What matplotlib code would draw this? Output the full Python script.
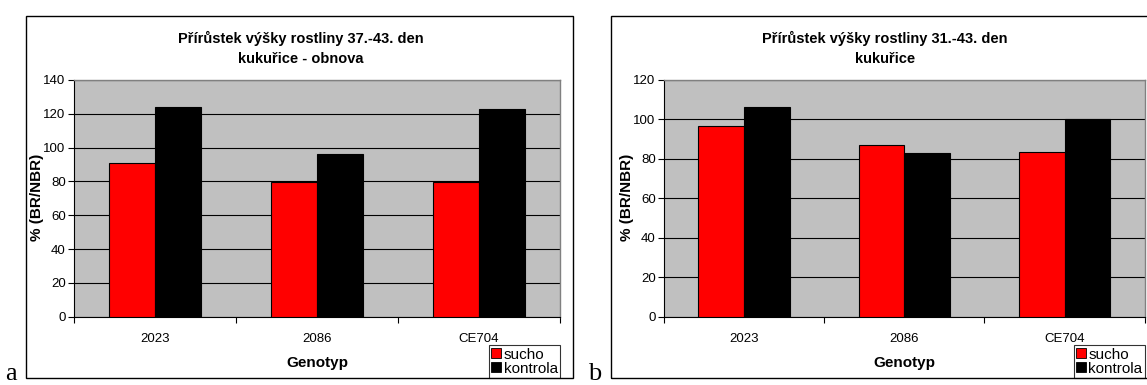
import numpy as np
import matplotlib
matplotlib.use("Agg")
import matplotlib.pyplot as plt
from matplotlib.patches import Rectangle
from matplotlib.lines import Line2D

plt.rcParams['font.family'] = ['Liberation Sans', 'DejaVu Sans']

# ---- data -------------------------------------------------------------
categories = ['2023', '2086', 'CE704']
series_names = ['sucho', 'kontrola']
series_colors = ['#FF0000', '#000000']

a_sucho = [90.8, 79.9, 79.9]
a_kontrola = [124.2, 96.2, 123.0]

b_sucho = [96.8, 86.9, 83.3]
b_kontrola = [106.3, 82.8, 100.1]

a_title = 'Přírůstek výšky rostliny 37.-43. den\nkukuřice - obnova'
b_title = 'Přírůstek výšky rostliny 31.-43. den\nkukuřice'
a_yticks = np.arange(0, 141, 20)
b_yticks = np.arange(0, 121, 20)
ylabel = '% (BR/NBR)'
xlabel = 'Genotyp'

# ---- figure -----------------------------------------------------------
W, H = 1147, 385
fig = plt.figure(figsize=(W / 100, H / 100), dpi=100)
fig.patch.set_facecolor('white')


def px_x(x):
    return x / W


def px_y(y):
    return 1 - y / H


def panel(left, right, frame_left, frame_right, title_cx, title, sucho,
          kontrola, yticks, ylabel_x, letter, letter_x):
    top, bottom = 80, 316.7
    ax = fig.add_axes([px_x(left), px_y(bottom), px_x(right - left),
                       (bottom - top) / H])
    ax.set_facecolor('#C0C0C0')
    x = np.arange(len(categories))
    w = 1 / 3.5
    ax.bar(x - w / 2, sucho, w, color=series_colors[0], edgecolor='black',
           linewidth=0.8, zorder=3)
    ax.bar(x + w / 2, kontrola, w, color=series_colors[1], edgecolor='black',
           linewidth=0.8, zorder=3)
    ax.set_xlim(-0.5, len(categories) - 0.5)
    ax.set_ylim(yticks[0], yticks[-1])
    ax.set_yticks(yticks)
    ax.set_yticklabels([str(v) for v in yticks], fontsize=9.5)
    ax.yaxis.grid(True, color='black', linewidth=0.8, zorder=1)
    ax.set_axisbelow(True)
    ax.tick_params(axis='y', direction='out', length=4, width=0.8, pad=2)
    ax.set_xticks(x)
    ax.set_xticklabels(categories, fontsize=9.5)
    ax.tick_params(axis='x', which='major', length=0, pad=12)
    ax.set_xticks(np.arange(-0.5, len(categories), 1.0), minor=True)
    ax.tick_params(axis='x', which='minor', direction='out', length=4,
                   width=0.8)
    for s in ['top', 'right']:
        ax.spines[s].set_color('#808080')
        ax.spines[s].set_linewidth(1.0)
    for s in ['left', 'bottom']:
        ax.spines[s].set_color('black')
        ax.spines[s].set_linewidth(0.8)

    # chart frame
    fig.add_artist(Rectangle((px_x(frame_left), px_y(378)),
                             px_x(frame_right - frame_left), (378 - 16) / H,
                             transform=fig.transFigure, fill=False,
                             edgecolor='black', linewidth=1.0))
    fig.text(px_x(title_cx), px_y(48), title, ha='center', va='center',
             fontsize=10.5, fontweight='bold', linespacing=1.55)
    fig.text(px_x(ylabel_x), px_y(197), ylabel, rotation=90, ha='center',
             va='center', fontsize=11, fontweight='bold')
    fig.text(px_x((left + right) / 2), px_y(363), xlabel, ha='center',
             va='center', fontsize=11, fontweight='bold')
    fig.text(px_x(letter_x), px_y(380), letter, ha='left', va='baseline',
             fontsize=19, family='Liberation Serif')

    handles = [Line2D([], [], linestyle='none', marker='s', markersize=6.5,
                      markerfacecolor=c, markeredgecolor='black',
                      markeredgewidth=0.6) for c in series_colors]
    leg = ax.legend(handles, series_names, loc='lower right',
                    bbox_to_anchor=(px_x(right), px_y(378)),
                    bbox_transform=fig.transFigure, fontsize=11,
                    frameon=True, fancybox=False, borderpad=0.15,
                    handlelength=0.6, handletextpad=0.2, labelspacing=0.0,
                    borderaxespad=0.0)
    leg.get_frame().set_edgecolor('black')
    leg.get_frame().set_linewidth(0.8)
    return ax


panel(74, 560, 26, 573, 301, a_title, a_sucho, a_kontrola, a_yticks, 37,
      'a', 5)
panel(664, 1144.7, 611, 1160, 885, b_title, b_sucho, b_kontrola, b_yticks,
      627, 'b', 588)

fig.savefig('out.png', dpi=100)
